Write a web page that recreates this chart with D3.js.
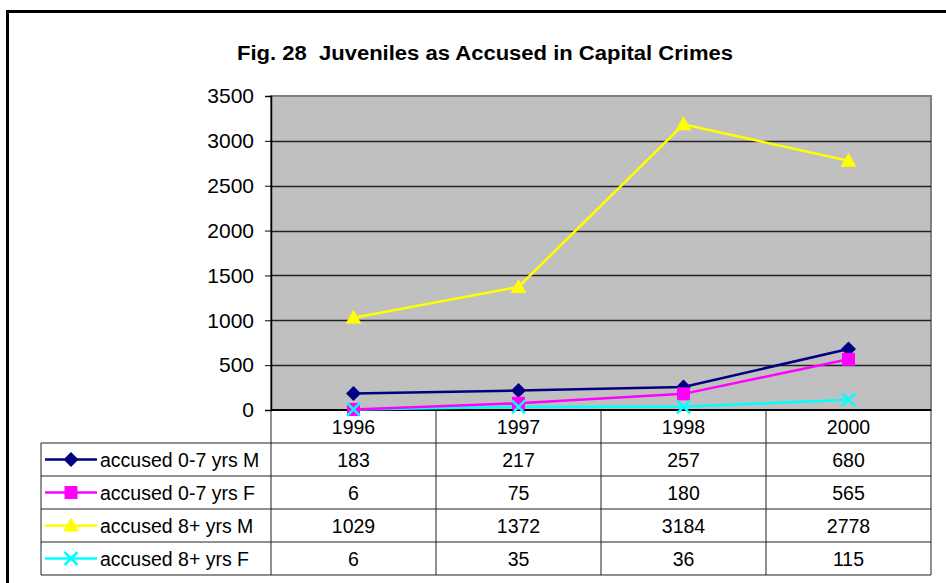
<!DOCTYPE html>
<html><head><meta charset="utf-8">
<script src="https://cdn.jsdelivr.net/npm/d3@7/dist/d3.min.js"></script>
<style>body{margin:0;background:#fff}svg{display:block}text{font-family:"Liberation Sans",Arial,sans-serif}</style>
</head><body>
<svg id="c" width="946" height="583"></svg>
<script>
const categories = ["1996","1997","1998","2000"];
const seriesNames = ["accused 0-7 yrs M","accused 0-7 yrs F","accused 8+ yrs M","accused 8+ yrs F"];
const m07 = [183,217,257,680];
const f07 = [6,75,180,565];
const m8 = [1029,1372,3184,2778];
const f8 = [6,35,36,115];
const yTicks = [0,500,1000,1500,2000,2500,3000,3500];
const colors = ["#000080","#FF00FF","#FFFF00","#00FFFF"];
const markers = ["diamond","square","triangle","x"];
const series = [m07,f07,m8,f8].map((v,i)=>({name:seriesNames[i],values:v,color:colors[i],marker:markers[i]}));

const svg = d3.select("#c");
svg.append("rect").attr("x",7.5).attr("y",11.5).attr("width",950).attr("height",600).attr("fill","none").attr("stroke","#000").attr("stroke-width",3);

svg.append("text").attr("x",237).attr("y",60).attr("font-size",20).attr("font-weight","bold")
  .attr("textLength",496).attr("lengthAdjust","spacingAndGlyphs").style("white-space","pre")
  .text("Fig. 28  Juveniles as Accused in Capital Crimes");

const L=271,R=931,T=96,B=410;
const x = d3.scaleBand().domain(categories).range([L,R]);
const y = d3.scaleLinear().domain([0,3500]).range([B,T]);

svg.append("rect").attr("x",L).attr("y",T).attr("width",R-L).attr("height",B-T).attr("fill","#C0C0C0").attr("stroke","#808080").attr("stroke-width",2);
svg.append("g").selectAll("line").data(yTicks.filter(d=>d>0&&d<3500)).join("line")
  .attr("x1",L).attr("x2",R).attr("y1",d=>Math.round(y(d))+0.5).attr("y2",d=>Math.round(y(d))+0.5).attr("stroke","#222").attr("stroke-width",1.3);

const ya = svg.append("g").attr("transform",`translate(${L},0)`).call(d3.axisLeft(y).tickValues(yTicks).tickFormat(d3.format("d")).tickSize(6).tickPadding(11));
ya.select(".domain").attr("stroke","#000").attr("stroke-width",1.5);
ya.selectAll(".tick line").attr("stroke","#000");
ya.selectAll("text").attr("font-size",21).attr("fill","#000").attr("font-family","Liberation Sans, Arial, sans-serif");
svg.append("line").attr("x1",L).attr("x2",R).attr("y1",B).attr("y2",B).attr("stroke","#000").attr("stroke-width",2);

const rowH = 33, tl = 41;
const tg = svg.append("g");
const lineC="#222";
const fs = 19.5;
x.domain().forEach(c=>{ tg.append("line").attr("x1",x(c)).attr("x2",x(c)).attr("y1",B).attr("y2",B+rowH*5).attr("stroke",lineC); });
tg.append("line").attr("x1",R).attr("x2",R).attr("y1",B).attr("y2",B+rowH*5).attr("stroke",lineC);
tg.append("line").attr("x1",tl).attr("x2",tl).attr("y1",B+rowH).attr("y2",B+rowH*5).attr("stroke",lineC);
for(let i=1;i<=5;i++){ tg.append("line").attr("x1",tl).attr("x2",R).attr("y1",B+rowH*i).attr("y2",B+rowH*i).attr("stroke",lineC); }
tg.selectAll(".hdr").data(categories).join("text").attr("x",d=>x(d)+x.bandwidth()/2).attr("y",B+rowH/2+7).attr("text-anchor","middle").attr("font-size",fs).text(d=>d);

function drawMarker(g,type,cx,cy,color){
  if(type==="diamond") g.append("path").attr("d",`M${cx},${cy-7.5}L${cx+7.5},${cy}L${cx},${cy+7.5}L${cx-7.5},${cy}Z`).attr("fill",color);
  else if(type==="square") g.append("rect").attr("x",cx-6.5).attr("y",cy-6.5).attr("width",13).attr("height",13).attr("fill",color);
  else if(type==="triangle") g.append("path").attr("d",`M${cx},${cy-8}L${cx+8},${cy+6}L${cx-8},${cy+6}Z`).attr("fill",color);
  else if(type==="x") g.append("path").attr("d",`M${cx-6.5},${cy-6.5}L${cx+6.5},${cy+6.5}M${cx+6.5},${cy-6.5}L${cx-6.5},${cy+6.5}`).attr("stroke",color).attr("stroke-width",2.5).attr("fill","none");
}

series.forEach((s,i)=>{
  const cy = B+rowH*(i+1)+rowH/2;
  tg.append("line").attr("x1",45).attr("x2",97).attr("y1",cy).attr("y2",cy).attr("stroke",s.color).attr("stroke-width",2.5);
  drawMarker(tg,s.marker,71,cy,s.color);
  tg.append("text").attr("x",100).attr("y",cy+7).attr("font-size",fs).text(s.name);
  s.values.forEach((v,j)=>{
    tg.append("text").attr("x",x(categories[j])+x.bandwidth()/2).attr("y",cy+7).attr("text-anchor","middle").attr("font-size",fs).text(v);
  });
});

const line = d3.line().x((d,j)=>x(categories[j])+x.bandwidth()/2).y(d=>y(d));
const pg = svg.append("g");
[3,1,0,2].forEach(i=>{
  const s=series[i];
  pg.append("path").attr("d",line(s.values)).attr("fill","none").attr("stroke",s.color).attr("stroke-width",2.5);
});
[0,1,2,3].forEach(i=>{
  const s=series[i];
  s.values.forEach((v,j)=>drawMarker(pg,s.marker,x(categories[j])+x.bandwidth()/2,y(v),s.color));
});
</script>
</body></html>
